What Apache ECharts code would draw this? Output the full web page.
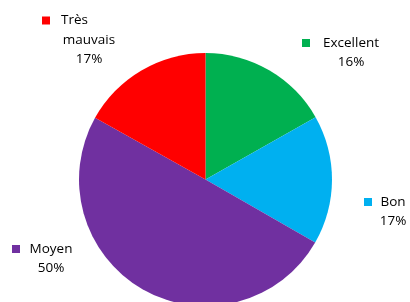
<!DOCTYPE html>
<html>
<head>
<meta charset="utf-8">
<script src="https://cdn.jsdelivr.net/npm/echarts@6/dist/echarts.min.js"></script>
<style>
html,body{margin:0;padding:0;background:#fff;}
#c{width:410px;height:302px;}
</style>
</head>
<body>
<div id="c"></div>
<script>
// ---- data ----
const categories = ['Excellent', 'Bon', 'Moyen', 'Très mauvais'];
const categoryLines = [['Excellent'], ['Bon'], ['Moyen'], ['Très', 'mauvais']];
const values = [16.8, 16.5, 49.8, 16.9];
const percentLabels = ['16%', '17%', '50%', '17%'];
const colors = ['#00B050', '#00B0F0', '#7030A0', '#FF0000'];

// ---- label layout (styling, not data) ----
const markerLeft = [302, 364, 12, 42];
const firstLineY = [43, 202, 249, 20.5];
const textWidth = [58, 26, 46, 56];
const gapWidth = [12, 8, 8, 11];
const leftFirstLine = [false, false, false, true];
const MARK = 8, LH = 19.5;

const textStyle = { fontFamily: 'Open Sans', fontSize: 13.5, color: '#000' };
const rich = {};
colors.forEach(function (c, i) {
  ['center', 'left'].forEach(function (al) {
    const sfx = al === 'left' ? 'L' : '';
    rich['m' + i + sfx] = { width: MARK, height: MARK, backgroundColor: c, lineHeight: LH, align: al };
    rich['g' + i + sfx] = { width: gapWidth[i], lineHeight: LH, align: al };
    rich['t' + i + sfx] = Object.assign({ width: textWidth[i], lineHeight: LH, align: al }, textStyle);
  });
  rich['s' + i] = { width: MARK + gapWidth[i], lineHeight: LH, align: 'center' };
});

const chart = echarts.init(document.getElementById('c'), null, { renderer: 'canvas' });
chart.setOption({
  animation: false,
  backgroundColor: '#ffffff',
  series: [{
    type: 'pie',
    center: [205.5, 179.5],
    radius: [0, 126.5],
    startAngle: 90,
    clockwise: true,
    data: categories.map(function (n, i) {
      return { name: n, value: values[i], itemStyle: { color: colors[i] } };
    }),
    itemStyle: { borderWidth: 0 },
    labelLine: { show: false },
    label: {
      show: true,
      position: 'outside',
      overflow: 'none',
      fontFamily: 'Open Sans',
      fontSize: 13.5,
      color: '#000',
      rich: rich,
      formatter: function (p) {
        const i = p.dataIndex;
        const lines = categoryLines[i].concat([percentLabels[i]]);
        return lines.map(function (l, k) {
          if (k === 0) {
            const sfx = leftFirstLine[i] ? 'L' : '';
            return '{m' + i + sfx + '|}{g' + i + sfx + '|}{t' + i + sfx + '|' + l + '}';
          }
          return '{s' + i + '|}{t' + i + '|' + l + '}';
        }).join('\n');
      }
    },
    labelLayout: function (params) {
      const i = params.dataIndex;
      const n = categoryLines[i].length + 1;
      return {
        x: markerLeft[i] + (MARK + gapWidth[i] + textWidth[i]) / 2,
        y: firstLineY[i] + (n - 1) * LH / 2,
        align: 'center',
        verticalAlign: 'middle',
        hideOverlap: false
      };
    }
  }]
});
</script>
</body>
</html>
